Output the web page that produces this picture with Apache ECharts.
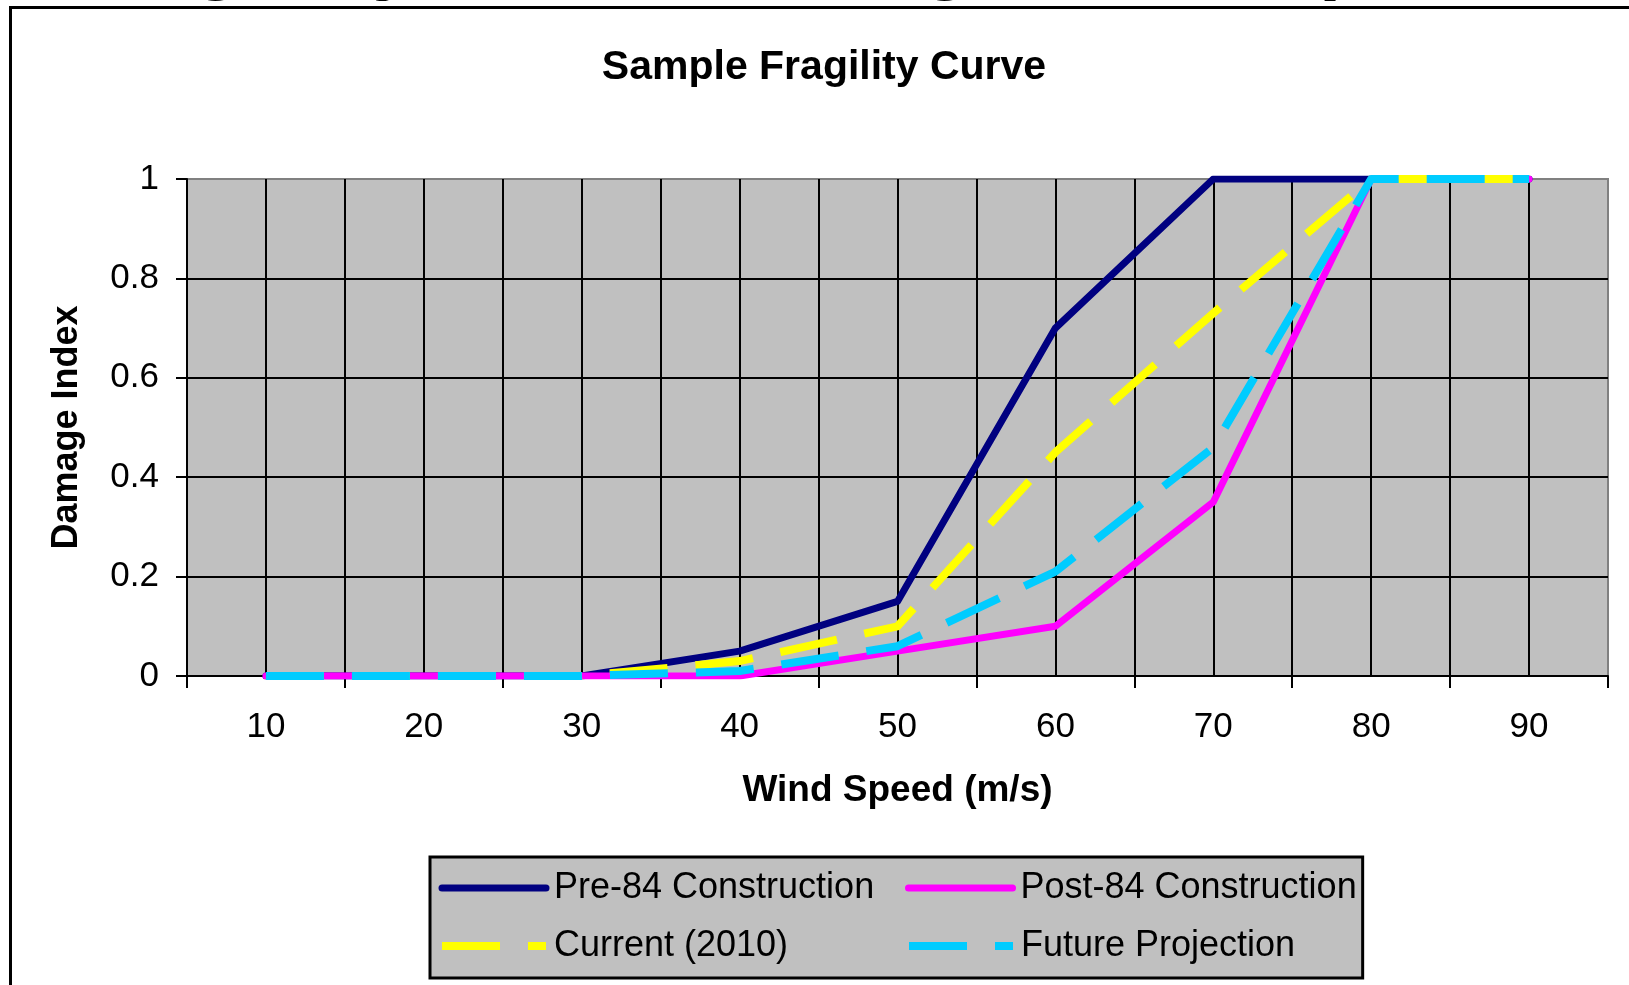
<!DOCTYPE html>
<html>
<head>
<meta charset="utf-8">
<script src="https://cdn.jsdelivr.net/npm/echarts@6/dist/echarts.min.js"></script>
<style>
html,body{margin:0;padding:0;background:#fff;}
#main{width:1629px;height:985px;}
</style>
</head>
<body>
<div id="main"></div>
<script>
const windSpeeds = [10, 20, 30, 40, 50, 60, 70, 80, 90];
const pre84 = [0, 0, 0, 0.05, 0.15, 0.70, 1, 1, 1];
const post84 = [0, 0, 0, 0, 0.05, 0.10, 0.35, 1, 1];
const current2010 = [0, 0, 0, 0.03, 0.10, 0.45, 0.73, 1, 1];
const futureProj = [0, 0, 0, 0.01, 0.06, 0.21, 0.46, 1, 1];
const seriesNames = ['Pre-84 Construction', 'Post-84 Construction', 'Current (2010)', 'Future Projection'];
const yTicks = [0, 0.2, 0.4, 0.6, 0.8, 1];

const FONT = 'Liberation Sans, Arial, sans-serif';
const pairs = arr => windSpeeds.map((x, i) => [x, arr[i]]);

const chart = echarts.init(document.getElementById('main'), null, {renderer: 'canvas'});
const clipped = [
  {t: 'g', x: 192}, {t: 'y', x: 372}, {t: 'g', x: 921}, {t: 'p', x: 1319}
].map(g => ({
  type: 'text', x: g.x, y: -38, z: 1,
  style: {text: g.t, font: 'bold 80px ' + FONT, fill: '#000', align: 'left', verticalAlign: 'middle'}
}));

const styles = [
  {color: '#000080', width: 7, type: 'solid', cap: 'round'},
  {color: '#FF00FF', width: 7, type: 'solid', cap: 'round'},
  {color: '#FFFF00', width: 8, type: [58, 28], cap: 'butt'},
  {color: '#00CCFF', width: 8, type: [58, 28], cap: 'butt'}
];

chart.setOption({
  animation: false,
  backgroundColor: '#ffffff',
  title: {
    text: 'Sample Fragility Curve',
    left: 819, top: 42, textAlign: 'center',
    textStyle: {fontFamily: FONT, fontWeight: 'bold', fontSize: 41, color: '#000'}
  },
  graphic: clipped.concat([
    {type: 'rect', z: 2, shape: {x: 10.5, y: 7.5, width: 1700, height: 1100},
     style: {fill: 'none', stroke: '#000', lineWidth: 3}}
  ]),
  grid: {
    left: 187, top: 179, width: 1421, height: 497,
    show: true, backgroundColor: '#C0C0C0', borderColor: '#808080', borderWidth: 2
  },
  legend: {
    data: seriesNames.map((n, i) => ({
      name: n,
      itemStyle: {opacity: 0, borderWidth: 0},
      lineStyle: {color: styles[i].color, width: styles[i].width, type: styles[i].type, cap: styles[i].cap, opacity: 1}
    })),
    left: 430, top: 857, width: 930,
    orient: 'horizontal',
    itemWidth: 104, itemHeight: 14, itemGap: 22,
    padding: [13, 6, 14, 8],
    backgroundColor: '#C0C0C0', borderColor: '#000', borderWidth: 3,
    textStyle: {fontFamily: FONT, fontSize: 36, color: '#000', width: 329, lineHeight: 35, padding: [0, 0, 0, 3]}
  },
  xAxis: [
    {
      type: 'value', min: 5, max: 95, interval: 5, position: 'bottom',
      name: 'Wind Speed (m/s)', nameLocation: 'middle', nameGap: 96,
      nameTextStyle: {fontFamily: FONT, fontWeight: 'bold', fontSize: 37, color: '#000'},
      axisLine: {show: true, lineStyle: {color: '#000', width: 2}},
      axisTick: {show: false},
      axisLabel: {
        margin: 34, fontFamily: FONT, fontSize: 35, color: '#000',
        formatter: v => (windSpeeds.indexOf(v) >= 0 ? String(v) : '')
      },
      splitLine: {show: true, showMaxLine: false, lineStyle: {color: '#000', width: 2}}
    },
    {
      type: 'value', min: 5, max: 95, interval: 10, position: 'bottom',
      axisLine: {show: false},
      axisTick: {show: true, length: 12, lineStyle: {color: '#000', width: 2}},
      axisLabel: {show: false},
      splitLine: {show: false}
    }
  ],
  yAxis: {
    type: 'value', min: 0, max: 1, interval: 0.2,
    name: 'Damage Index', nameLocation: 'middle', nameGap: 102, nameRotate: 90,
    nameTextStyle: {fontFamily: FONT, fontWeight: 'bold', fontSize: 36, color: '#000'},
    axisLine: {show: true, lineStyle: {color: '#000', width: 2}},
    axisTick: {show: true, length: 11, lineStyle: {color: '#000', width: 2}},
    axisLabel: {
      margin: 28, fontFamily: FONT, fontSize: 35, color: '#000',
      formatter: v => { const t = yTicks.find(k => Math.abs(k - v) < 1e-9); return t === undefined ? '' : String(t); }
    },
    splitLine: {show: true, showMaxLine: false, lineStyle: {color: '#000', width: 2}}
  },
  series: [pre84, post84, current2010, futureProj].map((arr, i) => ({
    name: seriesNames[i], type: 'line', xAxisIndex: 0, data: pairs(arr), symbol: 'none',
    lineStyle: {color: styles[i].color, width: styles[i].width, type: styles[i].type, cap: styles[i].cap, join: 'round'},
    itemStyle: {color: styles[i].color}
  }))
});
</script>
</body>
</html>
